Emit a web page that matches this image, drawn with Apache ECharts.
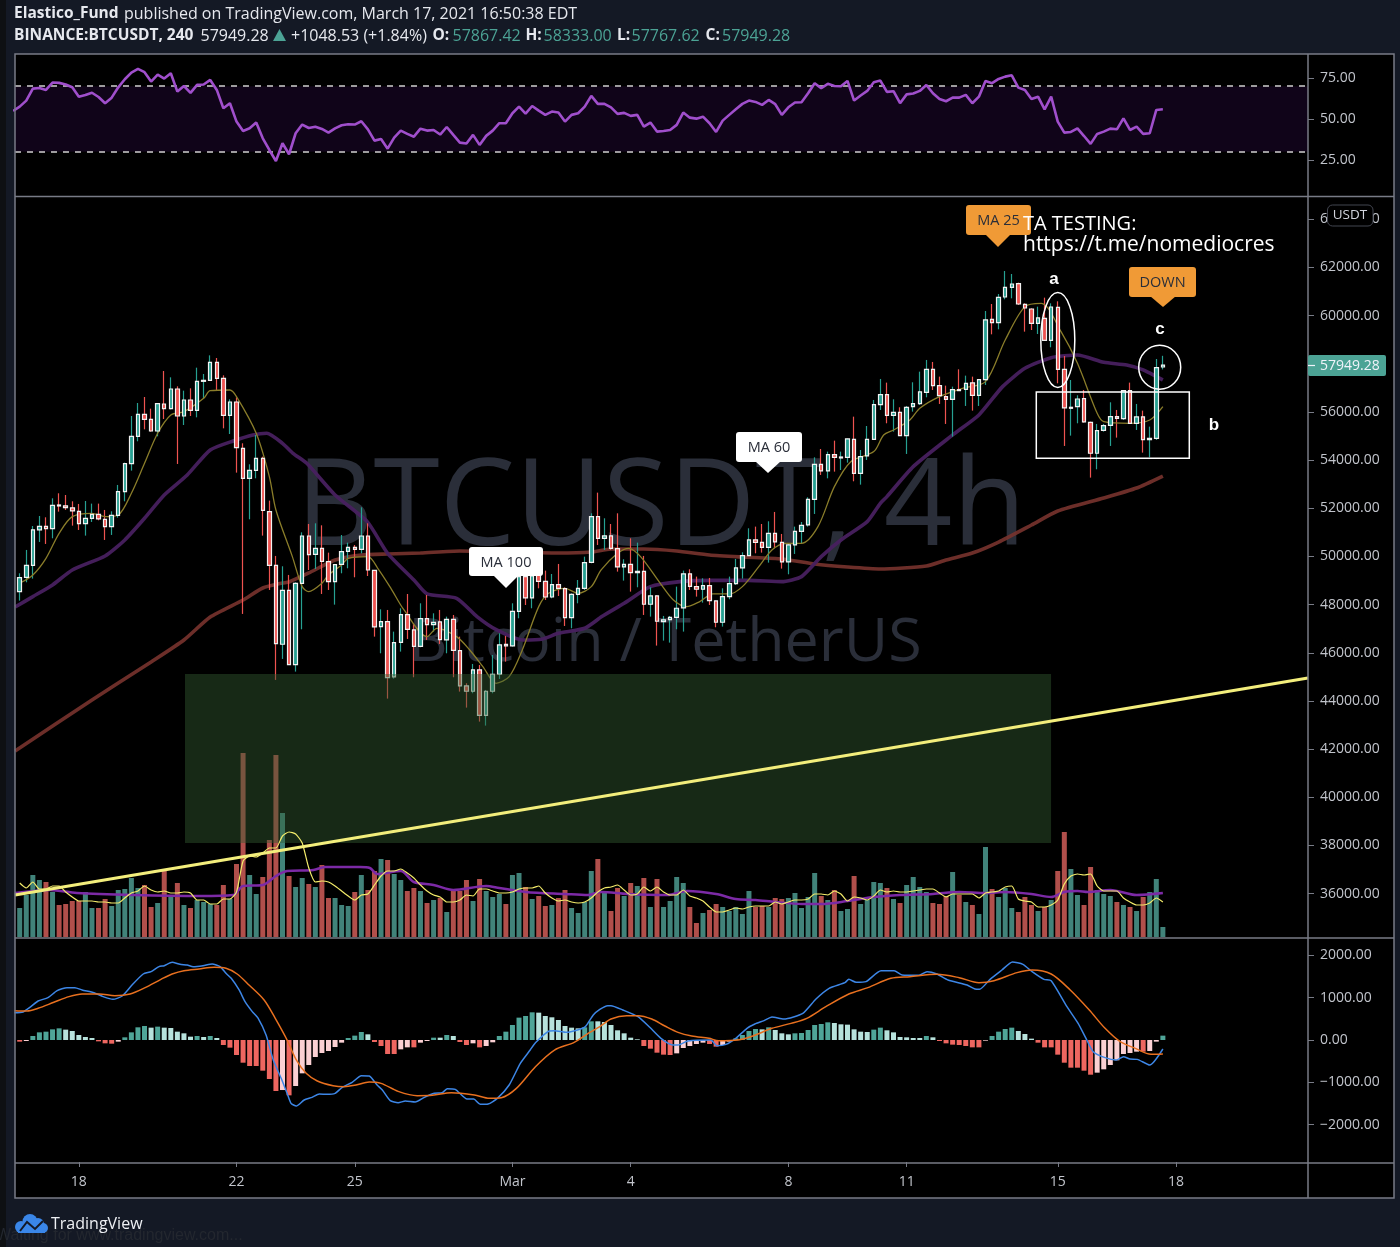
<!DOCTYPE html>
<html><head><meta charset="utf-8">
<style>html,body{margin:0;padding:0;background:#131722}#c{width:1400px;height:1247px}</style>
<script src="https://cdn.jsdelivr.net/npm/echarts@6/dist/echarts.min.js"></script>
</head><body><div id="c"></div>
<script>
// ---------- Candles (index 1..175, 4h bars) ----------
const opens=[48540,49135,49633,51100,51252,51156,52138,52097,52014,51875,
51363,51585,51751,51543,51238,51709,52692,53854,54989,55903,
55695,55211,56332,56138,56955,55833,56498,56069,57273,57314,
58062,57397,55861,56415,54491,53245,53578,54076,51861,49633,
46353,48595,45509,48885,50850,50089,50338,49784,48954,49674,
50213,50380,50296,50850,49425,47086,47293,44996,46435,47584,
46947,46269,47418,47169,47279,46532,47390,46089,44622,44401,
45286,43404,44401,45107,46352,46283,47722,49162,48276,49854,
48968,48317,48829,48663,47459,48428,48677,49758,51654,50754,
50851,50325,49564,49675,49329,49384,48014,48360,47294,47377,
47474,47862,49273,48747,48637,48789,48152,47267,48332,48872,
49522,50035,50685,50588,50380,50962,50588,49772,50477,51045,
51308,52373,53827,53550,54228,54090,54117,54865,53453,54173,
54866,56305,56720,55862,55987,55018,56222,56347,56817,57772,
57094,56637,56527,56928,56942,57205,56693,57343,59848,59710,
60776,61177,61329,60471,60277,59682,59890,58976,60347,57772,
56153,56222,56554,55572,54285,55240,55447,55807,55724,56886,
55530,55793,54852,54907,57867];
const closes=[49121,49633,51100,51252,51156,52124,52097,52028,51889,51363,
51585,51751,51557,51238,51709,52692,53854,54989,55903,55695,
55211,56346,56138,56955,55833,56498,56069,57273,57314,58062,
57397,55861,56415,54519,53245,53578,54076,51917,49633,46381,
48595,45509,48886,50850,50075,50338,49798,48954,49660,50200,
50380,50296,50850,49438,47072,47293,44968,46421,47584,46975,
46269,47418,47169,47265,46546,47390,46103,44622,44401,45286,
43404,44401,45107,46324,46283,47722,49162,48276,49189,48968,
48317,48829,48677,47459,48428,48677,49743,51654,50754,50851,
50339,49564,49675,49329,49384,48014,48360,47308,47363,47474,
47848,49273,48761,48637,48789,48166,47267,48332,48872,49522,
50035,50685,50588,50380,50962,50602,49772,50477,51045,51294,
52373,53827,53550,54228,54117,54131,54879,53453,54145,54865,
56305,56720,55862,55987,55018,56195,56347,56831,57772,57094,
56679,56527,56928,56887,57191,56693,57343,59821,59710,60762,
61177,61315,60485,60319,59682,59904,58976,60360,57772,56167,
56195,56540,55586,54285,55226,55433,55807,55738,56886,55530,
55793,54852,54907,57842,57949];
const highs=[49301,50270,51266,51681,51626,52415,52623,52553,52290,52180,
52304,52194,52194,51931,51875,52969,53896,55833,56373,56622,
56138,56359,57702,57439,57065,56885,56982,57840,57577,58352,
58242,57522,56525,56609,54699,53827,55045,54145,52318,50021,
49592,49232,48927,51002,51348,51376,51293,50158,49688,50892,
50573,50476,52040,51376,49438,47805,47778,46878,47847,48442,
47224,48054,48400,47639,47778,47501,47570,46670,44733,45535,
45494,44456,45909,46809,46698,48054,49328,49466,49784,50200,
49411,49272,49688,48719,48470,49023,49992,51792,52650,51585,
51349,51792,49882,50754,50574,50021,48720,48388,47529,47529,
48747,49412,49467,49163,49093,49107,48166,48678,49163,49896,
50173,51169,51239,51349,51460,51848,50934,50547,51239,51432,
52457,54117,54463,54353,54809,54353,54892,55806,54422,55418,
56499,57371,57219,56527,56195,56250,57233,57675,58160,58077,
57468,57094,57053,57772,57509,57468,57371,60194,60485,60900,
61855,61731,61371,60513,60305,60374,60748,60513,60596,58326,
57329,56693,56914,55599,55503,55503,56402,56084,56914,57219,
56333,56056,55392,58201,58333];
const lows=[48166,48927,49080,50602,50519,50754,51861,51931,51280,51100,
50865,51432,51502,50685,50893,51612,52290,53564,54782,55280,
55183,54989,55709,56110,53841,55460,55833,55778,56567,57301,
56913,55321,55086,53481,47613,51543,53245,50865,48609,44872,
45744,45495,45218,46975,49438,49480,48442,48608,47999,49300,
49508,49134,50130,49189,46670,45978,44096,44927,46048,46574,
44982,46228,46532,46878,46366,45978,44982,44387,43722,44318,
43141,42975,44318,44913,45632,46255,47432,47985,47847,48677,
48193,48262,48359,47113,47016,48054,48608,49716,50477,50270,
50270,49370,48997,48540,48720,47571,47502,46298,46505,46422,
46976,46879,48609,48332,48083,47986,47059,47087,48222,48817,
49080,50021,50131,50159,49744,50339,49495,49259,50104,50547,
51239,51765,53384,53245,53522,53591,53896,53121,52982,54007,
54838,56084,55530,55184,55004,54257,56015,56291,56610,56914,
56333,55503,54977,56870,56250,56056,56250,57122,59225,59433,
60679,60720,60443,59336,59405,59239,58949,58686,57191,54589,
55018,55530,55558,53274,53620,55184,54589,54935,55669,55503,
55253,54312,54118,54838,57767];

// ---------- Price moving averages, read as knots: candle index / price ----------
const ma100Idx=[0.3,12,16,21,26,30,35,38,41,42,45,49,53,57,62,68,83,88,91,96,101,106,111,117,122,127,132,139,142,146,150,155,159,166,171,175];
const ma100=[41920,44038,44744,45617,46530,47485,48191,48690,48897,48939,49313,49852,50060,50102,50143,50226,50143,50185,50309,50309,50226,50060,49977,49894,49686,49562,49479,49603,49852,50143,50600,51306,51887,52427,52843,53341];
const ma60Idx=[0.3,3,6,9,14,17,20,23,26.5,30,33.5,36.5,38.6,41,42.6,44.7,49,53.9,57,61,63,67.5,70.6,73.6,77.6,80.6,83,87,89.6,93,97,101.5,106.5,112,117,120,123,126,130,132,133,137,143,147,150.6,154,158,162,166,169.5,172,175];
const ma60=[47900,48332,48817,49439,50021,50685,51585,52553,53384,54422,54795,55045,55114,54699,54280,53867,52552,51445,50131,49023,48442,48262,47501,46947,46532,46574,46809,47017,47502,48056,48747,48955,49007,49007,48955,49163,49993,50685,51446,52207,52485,53731,55046,55876,57053,57814,58257,58367,58063,57952,57745,57330];
const ma25Idx=[1,3,5,7,9,12,14,16,18,20,22,24,26,29,30,33,34,37,39,40,42.5,44,45,47,48,50,51,54,55.5,57.5,59.5,63,64.5,67.5,69.5,71.5,73.5,75.5,77.5,80,81.5,84,86,88,89.5,92,93.7,95.5,98.5,100.5,102.5,104.5,106.5,109,111,113.5,115.5,117.5,120,122.5,125,127.5,131,132.5,134,136.5,138,141,144.5,148,151,154,156.5,159.5,162,165,166,170,173,175];
const ma25=[48886,49230,49924,50962,51654,51792,51654,51723,52623,53868,55114,55875,56013,56567,56885,56913,56636,55114,53315,51930,49993,48746,48539,48885,49231,49646,49923,49992,49508,48677,47777,46670,47016,46670,46117,45425,44733,45009,46117,47916,48470,48677,48470,48747,49439,50131,50339,49993,48886,48194,47917,48125,48443,48443,48747,49578,50269,50547,50547,51239,52899,53937,54354,55046,55253,55668,56153,56638,56983,57260,58990,60374,60513,59336,58021,55945,55599,55530,55668,56222];

// Long rising trend line and supply/demand box
const trendIdx=[0.285,197.09];
const trendPrice=[35940,44952];
const zoneIdx=[26.16,157.98];
const zonePrice=[38100,45118];

// ---------- Volume (relative units, index 1..175) ----------
const volume=[29,42,62,57,55,45,32,33,36,36,45,29,29,38,31,47,48,59,49,52,30,34,66,40,54,32,29,37,35,33,32,52,38,73,184,62,43,60,97,182,124,61,50,59,53,50,72,39,39,32,31,45,62,47,66,78,77,63,
57,46,49,46,34,37,39,25,46,46,57,36,58,46,40,43,33,62,64,50,38,41,31,32,39,47,29,24,35,66,78,45,26,49,41,54,51,59,30,58,30,36,60,54,30,14,24,27,33,30,26,30,23,46,30,31,30,39,38,39,44,
29,40,64,41,37,47,26,28,61,33,37,55,54,49,38,34,52,60,50,45,34,33,41,65,42,35,32,23,90,48,40,49,29,25,40,32,26,30,37,66,105,68,42,32,70,47,43,41,35,32,30,26,40,45,58,10];
const volFast=[54,49,55,48,48,51,51,45,40,36,36,36,35,35,34,34,39,44,46,51,47,45,46,44,44,45,44,37,37,33,33,38,38,45,76,81,80,84,89,89,101,105,103,94,69,55,56,55,51,46,41,37,42,43,52,61,66,66,
68,64,59,52,46,42,40,35,35,37,42,41,48,48,46,44,44,45,48,49,49,51,44,39,36,37,35,34,35,39,45,49,50,52,47,42,43,50,46,50,45,42,42,47,41,39,36,30,25,25,27,29,28,30,31,31,31,35,33,35,37,
37,38,43,43,42,46,43,36,40,39,37,41,47,45,46,45,45,46,47,48,48,44,40,43,43,43,43,39,44,45,46,50,51,38,36,35,30,30,32,37,53,61,63,62,63,51,46,46,46,39,35,32,32,34,39,35];
const volSlowIdx=[0.3,5.6,9.7,18.3,28.5,33.5,35,38,40,41.7,45.7,47.5,52.8,54.3,55.4,59,61,64,67,72,74,78,84,87.5,89.5,93.5,99.6,102.6,107,110,113,116,120,123,127,131,135,140,144,148,151,155,158,160,162,163.6,167,171,175];
const volSlow=[44,47,44,42,41,42,51,52,61,66,67,70,70,69,63,66,55,52,47,51,49,45,43,42,45,43,42,46,43,38,37,35,33,33,36,40,42,43,45,44,45,43,40,45,46,45,47,42,44];

// ---------- RSI (index 0..175) ----------
const rsi=[54.9,57.5,61.2,68.5,68.9,67.7,72.2,72,71,69.3,63.6,64.6,66,63.4,59.6,63,69.3,74.2,78.3,80.5,78.5,72.8,77,74.6,77.9,66.7,70.1,65.9,70.8,71,73.8,67.7,56.5,59.6,48.4,42.7,44.3,47.8,38.2,31.1,24.4,35.2,28.5,41.3,46.6,44.5,45.3,43.9,41.7,44.3,46.2,46.8,46.6,48.6,43.7,36.8,37.8,31.9,38.6,42.9,40.9,39.2,44.1,42.9,43.3,40.5,45.1,40.3,35.6,35,40.3,34.2,39.7,42.9,47.4,47.4,53.5,57.5,53.3,57.9,55.1,52.5,54.5,53.9,48.4,52.5,53.5,57.5,64.1,59.2,59.2,57.1,53.1,53.7,51.9,52.5,45.3,47.8,42.3,42.7,43.3,46.4,53.9,50.8,50.2,51.4,47.4,42.1,49,52.5,55.9,59.2,61.2,60.4,58.6,61.6,59,52.5,57.1,60,
60.2,65.7,71.8,68.7,71.4,70.1,69.9,73.2,61.2,64.3,67.1,72.4,73.4,66.5,66.9,59.6,65,65.5,67.1,70.7,65.7,62.2,60.8,63,63,64.7,59.6,63.6,73.2,71.8,74.4,75.8,76.6,69.1,67.7,62.2,63.6,55.9,63.6,48.4,41.7,42.1,44.3,39.6,34.8,40.9,42.3,44.1,43.7,50.4,43.3,45.3,40.9,41.3,55.5,55.9];
const rsiUpper=70, rsiLower=30;

// ---------- MACD ----------
const hist=[-39,-24,95,181,197,252,276,245,213,118,71,47,-32,-79,-87,-39,63,181,300,331,292,316,292,284,197,158,79,95,71,95,47,-118,-181,-355,-537,-615,-615,-726,-923,-1207,-1184,-1310,-1089,-789,-592,-402,-308,-260,-166,-63,47,103,189,134,-47,-142,-331,-331,-221,-174,-174,-63,-24,55,55,118,95,-47,-118,-79,-174,-142,-55,95,197,355,529,568,655,647,568,537,473,331,292,276,300,442,442,
426,355,229,158,55,16,-142,-205,-300,-347,-355,-316,-189,-142,-95,-63,-95,-158,-118,-39,39,118,213,260,252,300,237,158,134,158,166,237,355,379,418,402,371,363,252,197,189,245,292,229,181,71,63,47,47,95,63,-24,-79,-110,-118,-142,-174,-174,-16,95,197,260,292,213,142,32,-63,-174,-174,-347,-537,-655,-655,-726,-821,-773,-694,-592,-481,-331,-308,-276,-276,-260,-39,103];
const difIdx=[0.2,1.5,2.7,3.8,5.3,6.7,8.2,9.4,10.5,12.3,13.7,15.2,16.6,18.1,19.8,21,22.2,23,24.2,25.4,26.5,27.4,28.9,30.3,31.5,32.4,33.2,34.4,35.3,36.4,37.3,38.5,39.6,40.8,41.7,42.3,43.1,44.3,45.5,46.6,47.8,49,50.1,51.6,53,54.2,55.4,56.2,57.4,58.6,59.7,61.2,62.6,64.1,65.3,66.1,67.3,69.1,70.1,71.1,72.3,73.7,75.5,77.2,78.7,79.5,81.6,82.4,84.2,85.9,87.1,88.3,89.3,
90.5,91,92.8,95.1,96.9,98.6,100.4,101.2,102.7,106.2,107.1,108.5,110,111.7,112.9,114.3,115.5,117.3,120.2,122.2,124.2,126.6,127.2,128.3,129.8,132.1,134.1,135.3,137.9,139.1,140.6,142.3,145.2,146.4,147.1,148.7,150.5,152.1,153.7,155.1,156.9,158,160.4,162.1,163.3,164.4,166.2,167.9,169,170,171.1,173,175];
const dif=[647,663,789,923,1002,1168,1239,1239,1184,1120,1026,963,1041,1302,1562,1617,1736,1759,1838,1791,1775,1736,1759,1799,1736,1578,1460,1184,907,671,513,118,-473,-907,-1262,-1499,-1562,-1420,-1357,-1278,-1286,-1262,-1120,-1002,-844,-852,-1065,-1184,-1436,-1483,-1444,-1468,-1357,-1262,-1247,-1152,-1168,-1397,-1397,-1523,-1515,-1381,-1065,-552,-237,-63,213,221,181,237,316,592,726,
813,813,710,552,300,39,-118,-118,-24,0,-134,-103,39,276,379,458,544,497,631,970,1223,1357,1436,1365,1381,1641,1641,1539,1531,1617,1562,1420,1302,1207,1199,1436,1657,1846,1791,1617,1436,1404,789,394,39,-276,-418,-473,-395,-450,-458,-592,-213];
const deaIdx=[0.2,2.1,3.8,6.2,8.5,10.5,13.1,15.5,17.8,20.1,22.5,24.2,26,28.3,30.6,32.4,34.1,35.9,38.2,39.9,41.7,43.1,44.6,46.3,48.7,50.4,52.2,54.2,56,58.6,61.5,63.8,66.7,70.2,72.5,74.3,76.6,79.5,82.4,85.4,87.7,89.3,
91,93.4,95.1,97.2,99.2,101.2,103.3,105.9,107.4,110.3,112.6,115.5,118.4,120.8,123.7,127.2,130.1,133.6,136.5,140.6,144,147,149.3,152.8,155.1,158,160.9,163.8,166.2,168.5,170.8,173.2,175];
const dea=[694,686,750,892,1026,1089,1089,1049,1089,1239,1436,1562,1641,1681,1720,1696,1562,1302,947,513,0,-473,-789,-970,-1081,-1105,-1065,-994,-1026,-1215,-1318,-1310,-1247,-1302,-1381,-1365,-1144,-631,-237,-55,174,316,
497,576,576,497,331,181,95,39,-16,0,95,276,394,513,789,1089,1239,1460,1499,1554,1475,1357,1404,1594,1657,1562,1184,710,276,-39,-197,-339,-331];

// ---------- Axis ticks ----------
const timeTickIdx=[10,34,52,76,94,118,136,159,177];
const timeTickLabels=['18','22','25','Mar','4','8','11','15','18'];
const priceTicks=[36000,38000,40000,42000,44000,46000,48000,50000,52000,54000,56000,58000,60000,62000,64000];
const rsiTicks=[25,50,75];
const macdTicks=[-2000,-1000,0,1000,2000];

// ---------- Styling ----------
const UP='#26a092',DOWN='#ef5350',LBL='#c2c5cc',FRAME='#787b86',XMIN=0.285,XMAX=197.09;
const F='"Open Sans",sans-serif';
const L=15,W=1293;
const pair=(xs,ys)=>xs.map((x,i)=>[x,ys[i]]);
const byK=(arr,from=1)=>arr.map((v,i)=>[i+from,v]);

const wickData=opens.map((o,i)=>[i+1,o,closes[i],lows[i],highs[i]]);
const bodyData=opens.map((o,i)=>[i+1,o,closes[i],Math.min(o,closes[i]),Math.max(o,closes[i])]);
const volData=volume.map((v,i)=>({value:[i+1,v],itemStyle:{color:closes[i]>=opens[i]?'#41837a':'#b14f4b'}}));
const histData=hist.map((v,i)=>{
  const p=i?hist[i-1]:v; let c;
  if(v>=0) c=v>p?'#4fa598':'#b7e2dc'; else c=v<=p?'#ee6660':'#fbd0d3';
  return {value:[i+1,v],itemStyle:{color:c,borderColor:'#000',borderWidth:0}};
});

function xAxis(i,show){return {type:'value',gridIndex:i,min:XMIN,max:XMAX,show:show,z:20,
  splitLine:{show:false},axisLine:{show:false,onZero:false},
  axisTick:{show:show,customValues:timeTickIdx,length:5,lineStyle:{color:FRAME}},
  axisLabel:{show:show,customValues:timeTickIdx,color:LBL,fontSize:14,fontFamily:F,margin:11,padding:[2,0,0,0],
    formatter:v=>{const j=timeTickIdx.indexOf(Math.round(v));return j<0?'':timeTickLabels[j];}}};}
function yAxis(i,min,max,ticks,fmt){return {type:'value',gridIndex:i,position:'right',min:min,max:max,show:!!ticks,z:20,scale:true,
  splitLine:{show:false},axisLine:{show:false,onZero:false},
  axisTick:ticks?{show:true,customValues:ticks,length:6,lineStyle:{color:FRAME}}:{show:false},
  axisLabel:ticks?{show:true,customValues:ticks,color:LBL,fontSize:14,fontFamily:F,margin:12,padding:[2,0,0,0],formatter:fmt}:{show:false}};}
const fmt2=v=>v.toFixed(2).replace('-','\u2212');

const txt=(text,x,y,fill,font,align,z)=>({type:'text',z:z||30,style:{text:text,x:x,y:y+1,fill:fill,font:font,textAlign:align||'left',textVerticalAlign:'middle',align:align||'left',verticalAlign:'middle'}});
const rect=(x,y,w,h,fill,z,stroke,lw,r)=>({type:'rect',z:z,shape:{x:x,y:y,width:w,height:h,r:r||0},style:{fill:fill,stroke:stroke||null,lineWidth:lw||0}});
const hline=(x1,y1,x2,y2,c,lw,z)=>({type:'line',z:z||16,shape:{x1:x1,y1:y1,x2:x2,y2:y2},style:{stroke:c,lineWidth:lw||1.5}});
const disc=(cx,cy,r,c)=>({type:'circle',z:30,shape:{cx:cx,cy:cy,r:r},style:{fill:c}});
function callout(x,y,w,h,tipx,tipy,fill,label){
  return [rect(x,y,w,h,fill,28,null,0,3),
   {type:'polygon',z:28,shape:{points:[[tipx-13,y+h-1],[tipx+13,y+h-1],[tipx,tipy]]},style:{fill:fill}},
   txt(label,x+w/2,y+h/2,'#2a2e39','14.5px '+F,'center',29)];
}
const hdr='16px '+F,hdrB='bold 15.5px '+F,GV='#4ca395',WH='#e6e8ee',LOGO='#3a86e8';
const graphic=[
  rect(0,0,1400,1247,'#141925',-3),
  rect(0,0,6,1247,'#0e1013',-2),
  rect(15,54,1379,1144,'#000',-1),
  {type:'text',z:1,style:{text:'BTCUSDT, 4h',x:661,y:511,fill:'#2a2e39',font:'120px '+F,textAlign:'center',textVerticalAlign:'middle',align:'center',verticalAlign:'middle'}},
  {type:'text',z:1,style:{text:'Bitcoin / TetherUS',x:665,y:644,fill:'#2a2e39',font:'61px '+F,textAlign:'center',textVerticalAlign:'middle',align:'center',verticalAlign:'middle'}},
  // frame
  rect(15,54,1379,1144,null,16,FRAME,1.5),
  hline(15,196.5,1394,196.5,FRAME),hline(15,938,1394,938,FRAME),hline(15,1163,1394,1163,FRAME),hline(1308,54,1308,1198,FRAME),
  // header
  txt('Elastico_Fund',14,13,WH,hdrB),txt('published on TradingView.com, March 17, 2021 16:50:38 EDT',124,13,WH,hdr),
  txt('BINANCE:BTCUSDT, 240',14,35,WH,hdrB),txt('57949.28',200.5,35,WH,hdr),
  {type:'polygon',z:30,shape:{points:[[273,41],[286,41],[279.5,29]]},style:{fill:GV}},
  txt('+1048.53 (+1.84%)',291,35,WH,hdr),
  txt('O:',432.5,35,WH,hdrB),txt('57867.42',452.5,35,GV,hdr),
  txt('H:',525.5,35,WH,hdrB),txt('58333.00',543.5,35,GV,hdr),
  txt('L:',617,35,WH,hdrB),txt('57767.62',631.5,35,GV,hdr),
  txt('C:',705.5,35,WH,hdrB),txt('57949.28',722,35,GV,hdr),
  // annotations
  ...callout(966,205,65,30,998,247,'#f09a36','MA 25'),
  ...callout(1129,267,67,30,1163,307,'#f09a36','DOWN'),
  ...callout(469,547,74,29,506,588,'#ffffff','MA 100'),
  ...callout(736,432,66,30,768,473,'#ffffff','MA 60'),
  txt('TA TESTING:',1023,223,'#fff','20px '+F),
  txt('https://t.me/nomediocres',1023,244,'#fff','21px '+F),
  txt('a',1054,278,'#fff','bold 17px "Liberation Sans"','center'),
  txt('b',1214,424,'#fff','bold 17px "Liberation Sans"','center'),
  txt('c',1160,328,'#fff','bold 17px "Liberation Sans"','center'),
  {type:'ellipse',z:27,shape:{cx:1057.8,cy:340,rx:17,ry:47.5},style:{fill:null,stroke:'#fff',lineWidth:1.5}},
  {type:'ellipse',z:27,shape:{cx:1159.7,cy:367.3,rx:21,ry:22},style:{fill:null,stroke:'#fff',lineWidth:1.5}},
  rect(1036.3,392,153,66.3,null,27,'#fff',1.5),
  // price tag
  rect(1308,355,78,21,'#4ca395',28,null,0,2),
  hline(1308,365.5,1315,365.5,'#f0f3fa',1.2,29),
  txt('57949.28',1320,365,'#f0f3fa','14px '+F,'left',29),
  // USDT box
  rect(1327.5,205,45.5,21,'#000',28,'#434651',1,5),
  txt('USDT',1350,214.5,'#d1d4dc','13.5px '+F,'center',29),
  // footer
  txt('Waiting for www.tradingview.com...',-4,1235,'#23272f','16px "Liberation Sans"','left',5),
  disc(21,1227,6,LOGO),disc(30,1221.5,7.5,LOGO),disc(38,1224,6,LOGO),disc(43,1228,5,LOGO),
  rect(18,1226,27,7,LOGO,30),
  {type:'polyline',z:31,shape:{points:[[20,1231],[27,1222],[35,1229],[43,1221]]},style:{stroke:'#141925',lineWidth:2,fill:null}},
  txt('TradingView',51,1223,'#eef0f4','16px '+F),
];

const option={
  backgroundColor:'#141925',animation:false,
  textStyle:{fontFamily:F},
  grid:[
    {left:L,width:W,top:54,height:142},
    {left:L,width:W,top:197,height:740},
    {left:L,width:W,top:743,height:194},
    {left:L,width:W,top:939,height:223},
  ],
  xAxis:[xAxis(0,false),xAxis(1,false),xAxis(2,false),xAxis(3,true)],
  yAxis:[
    yAxis(0,3.05,89.6,rsiTicks,fmt2),
    yAxis(1,34196,64928,priceTicks,fmt2),
    yAxis(2,0,194,null),
    yAxis(3,-2887,2390,macdTicks,fmt2),
  ],
  graphic:graphic,
  series:[
    {name:'RSI',type:'line',xAxisIndex:0,yAxisIndex:0,data:byK(rsi,0),showSymbol:false,z:4,
      lineStyle:{color:'#a04fcc',width:2.6},
      markArea:{silent:true,z:1,itemStyle:{color:'rgba(120,30,190,0.13)'},data:[[{yAxis:rsiLower},{yAxis:rsiUpper}]]},
      markLine:{silent:true,symbol:'none',label:{show:false},z:3,lineStyle:{color:'#d0d0d0',type:[6,6],width:1.5},data:[{yAxis:rsiUpper},{yAxis:rsiLower}]}},
    {name:'Volume',type:'bar',xAxisIndex:2,yAxisIndex:2,data:volData,barWidth:5,z:2},
    {name:'Vol MA slow',type:'line',xAxisIndex:2,yAxisIndex:2,data:pair(volSlowIdx,volSlow),smooth:0.3,showSymbol:false,z:7,lineStyle:{color:'#7c2aa6',width:2.5}},
    {name:'Vol MA fast',type:'line',xAxisIndex:2,yAxisIndex:2,data:byK(volFast),showSymbol:false,smooth:0.2,z:8,lineStyle:{color:'#f4ec6a',width:1.2}},
    {name:'MA100',type:'line',xAxisIndex:1,yAxisIndex:1,data:pair(ma100Idx,ma100),smooth:0.2,showSymbol:false,z:3,lineStyle:{color:'#78332e',width:3.6,opacity:.9}},
    {name:'MA60',type:'line',xAxisIndex:1,yAxisIndex:1,data:pair(ma60Idx,ma60),smooth:0.2,showSymbol:false,z:3,lineStyle:{color:'#48205f',width:3.6,opacity:.95}},
    {name:'Wicks',type:'candlestick',xAxisIndex:1,yAxisIndex:1,data:wickData,barWidth:0.4,z:4,
      itemStyle:{color:UP,color0:DOWN,borderColor:UP,borderColor0:DOWN,borderColorDoji:UP,borderWidth:1.2}},
    {name:'Bodies',type:'candlestick',xAxisIndex:1,yAxisIndex:1,data:bodyData,barWidth:4,z:5,
      itemStyle:{color:UP,color0:DOWN,borderColor:'#f2f2f2',borderColor0:'#f2f2f2',borderColorDoji:'#f2f2f2',borderWidth:1.2}},
    {name:'MA25',type:'line',xAxisIndex:1,yAxisIndex:1,data:pair(ma25Idx,ma25),smooth:0.3,showSymbol:false,z:5,lineStyle:{color:'#8a7d2a',width:1.3}},
    {name:'Zone',type:'line',xAxisIndex:1,yAxisIndex:1,data:[],z:6,
      markArea:{silent:true,z:6,itemStyle:{color:'rgba(50,92,48,0.45)'},data:[[{xAxis:zoneIdx[0],yAxis:zonePrice[0]},{xAxis:zoneIdx[1],yAxis:zonePrice[1]}]]}},
    {name:'Trend',type:'line',xAxisIndex:1,yAxisIndex:1,data:pair(trendIdx,trendPrice),showSymbol:false,z:9,lineStyle:{color:'#f3ee7c',width:3}},
    {name:'MACD Hist',type:'bar',xAxisIndex:3,yAxisIndex:3,data:histData,barWidth:5,z:2},
    {name:'DEA',type:'line',xAxisIndex:3,yAxisIndex:3,data:pair(deaIdx,dea),smooth:0.3,showSymbol:false,z:4,lineStyle:{color:'#e8701f',width:1.5}},
    {name:'DIF',type:'line',xAxisIndex:3,yAxisIndex:3,data:pair(difIdx,dif),smooth:0.2,showSymbol:false,z:3,lineStyle:{color:'#3d86e6',width:1.5}},
  ]
};
echarts.init(document.getElementById('c'),null,{renderer:'canvas'}).setOption(option);
</script></body></html>
